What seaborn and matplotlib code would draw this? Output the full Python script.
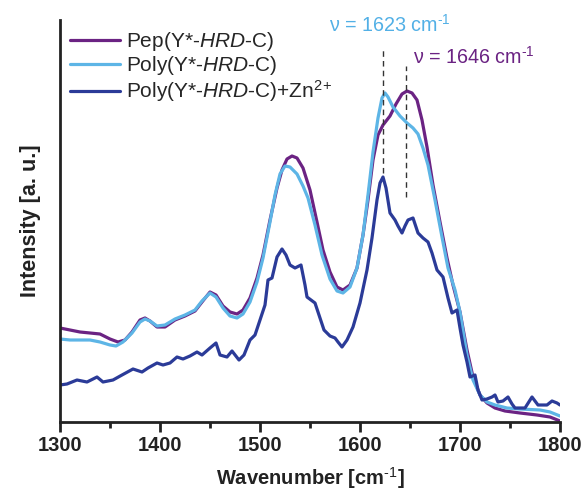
import matplotlib
matplotlib.use("Agg")
import matplotlib.pyplot as plt
import seaborn as sns
import numpy as np

# Pep(Y*-HRD-C)
pep_wn = [1300, 1310, 1320, 1330, 1340, 1350, 1358, 1365, 1372, 1380, 1385, 1390, 1397, 1405,
          1415, 1425, 1435, 1442, 1450, 1456, 1463, 1470, 1477, 1483, 1490, 1497, 1503, 1510,
          1517, 1522, 1527, 1532, 1537, 1543, 1550, 1557, 1563, 1570, 1577, 1583, 1590, 1597,
          1603, 1608, 1613, 1618, 1623, 1630, 1636, 1642, 1647, 1652, 1657, 1662, 1667, 1673,
          1680, 1687, 1693, 1700, 1707, 1713, 1720, 1727, 1735, 1745, 1760, 1777, 1790, 1800]
pep_int = [94, 92, 90, 89, 88, 83, 80, 82, 90, 102, 104, 101, 95, 95,
           102, 106, 111, 120, 130, 127, 116, 110, 108, 112, 124, 144, 167, 202,
           234, 252, 263, 266, 264, 254, 232, 200, 172, 150, 135, 132, 137, 154,
           187, 222, 262, 287, 297, 306, 318, 328, 331, 329, 322, 302, 275, 237,
           200, 164, 137, 110, 72, 45, 27, 19, 14, 11, 9, 7, 5, 1]

# Poly(Y*-HRD-C)
poly_wn = [1300, 1310, 1320, 1330, 1340, 1350, 1356, 1363, 1372, 1380, 1385, 1390, 1397, 1405,
           1415, 1425, 1435, 1442, 1450, 1456, 1463, 1470, 1477, 1483, 1490, 1497, 1503, 1510,
           1515, 1520, 1525, 1530, 1537, 1543, 1548, 1555, 1562, 1570, 1577, 1583, 1590, 1597,
           1603, 1608, 1613, 1618, 1622, 1625, 1628, 1633, 1640, 1647, 1653, 1658, 1663, 1668,
           1675, 1682, 1688, 1695, 1700, 1707, 1713, 1720, 1727, 1735, 1747, 1760, 1780, 1790, 1800]
poly_int = [83, 82, 82, 82, 80, 77, 76, 80, 89, 100, 103, 101, 96, 97,
            103, 107, 112, 121, 129, 125, 114, 106, 104, 108, 120, 140, 164, 200,
            227, 248, 256, 255, 248, 236, 224, 197, 167, 143, 131, 129, 135, 154,
            187, 227, 270, 304, 324, 329, 325, 315, 306, 299, 294, 288, 274, 257,
            222, 185, 154, 132, 110, 67, 42, 27, 20, 17, 14, 13, 12, 10, 6]

# Poly(Y*-HRD-C)+Zn2+
zn_wn = [1300, 1307, 1317, 1327, 1337, 1343, 1353, 1362, 1373, 1382, 1388, 1397, 1403, 1410,
         1417, 1423, 1430, 1437, 1442, 1450, 1456, 1460, 1467, 1472, 1479, 1484, 1490, 1495,
         1500, 1505, 1508, 1512, 1517, 1522, 1526, 1530, 1535, 1541, 1545, 1547, 1551, 1555,
         1560, 1564, 1570, 1575, 1578, 1582, 1587, 1593, 1600, 1607, 1612, 1617, 1620, 1623,
         1626, 1630, 1635, 1638, 1642, 1645, 1648, 1653, 1658, 1663, 1668, 1672, 1677, 1683,
         1688, 1692, 1697, 1700, 1703, 1707, 1710, 1715, 1718, 1722, 1727, 1732, 1735, 1738,
         1743, 1748, 1752, 1755, 1765, 1772, 1778, 1787, 1792, 1797, 1800]
zn_int = [37, 38, 42, 40, 45, 40, 42, 47, 53, 50, 54, 59, 57, 59,
          65, 63, 66, 70, 67, 74, 79, 67, 65, 71, 62, 67, 82, 87,
          102, 117, 142, 144, 165, 173, 167, 157, 154, 157, 137, 125, 122, 119,
          104, 92, 86, 84, 80, 75, 82, 95, 119, 152, 184, 222, 239, 245,
          234, 209, 202, 196, 189, 196, 202, 204, 189, 184, 180, 169, 152, 145,
          124, 109, 112, 94, 77, 60, 45, 47, 32, 22, 23, 25, 27, 20,
          21, 25, 18, 14, 14, 25, 17, 17, 21, 19, 17]

labels = ["Pep(Y*-$\\it{HRD}$-C)", "Poly(Y*-$\\it{HRD}$-C)", "Poly(Y*-$\\it{HRD}$-C)+Zn$^{2\\!+}$"]
colors = ["#6B2383", "#5DB5E6", "#2B3B98"]

peak_wn = [1623, 1646]
peak_top = [374, 356]
peak_bottom = [249, 225]
peak_text = ["ν = 1623 cm$^{\\text{-1}}$", "ν = 1646 cm$^{\\text{-1}}$"]
peak_text_colors = ["#52B0E6", "#6B2383"]

sns.set_theme(style="white")
plt.rcParams['font.family'] = ['Liberation Sans', 'DejaVu Sans']
plt.rcParams['mathtext.fontset'] = 'custom'
plt.rcParams['mathtext.rm'] = 'Liberation Sans'
plt.rcParams['mathtext.it'] = 'Liberation Sans:italic'
plt.rcParams['mathtext.bf'] = 'Liberation Sans:bold'

fig = plt.figure(figsize=(5.86, 4.94), dpi=100)
ax = fig.add_axes([60/586, 72/494, 500/586, 402/494])

for wn, it, lab, col in zip([pep_wn, poly_wn, zn_wn], [pep_int, poly_int, zn_int], labels, colors):
    sns.lineplot(x=wn, y=it, ax=ax, color=col, lw=2.3, label=lab)

for x, y0, y1 in zip(peak_wn, peak_bottom, peak_top):
    ax.plot([x, x], [y0, y1], color="#333333", lw=1.0, ls=(0, (4, 3)))

ax.text(1569, 397, peak_text[0], color=peak_text_colors[0], fontsize=14.2, ha='left', va='center')
ax.text(1653, 365, peak_text[1], color=peak_text_colors[1], fontsize=14.2, ha='left', va='center')

ax.set_xlim(1300, 1800)
ax.set_ylim(0, 402)
ax.set_xticks([1300, 1400, 1500, 1600, 1700, 1800])
ax.set_xticks([1350, 1450, 1550, 1650, 1750], minor=True)
ax.set_yticks([])
ax.tick_params(axis='x', which='major', direction='out', length=7, width=2, colors='#222222',
               labelsize=14.5, pad=3, bottom=True)
ax.tick_params(axis='x', which='minor', direction='out', length=4, width=2, colors='#222222', bottom=True)
for lab in ax.get_xticklabels():
    lab.set_fontweight('bold')
ax.spines['top'].set_visible(False)
ax.spines['right'].set_visible(False)
for s in ['left', 'bottom']:
    ax.spines[s].set_color('#222222')
    ax.spines[s].set_linewidth(2)

ax.set_xlabel("Wavenumber [cm$^{\\mathbf{\\text{-1}}}$]", fontsize=14.5, fontweight='bold', color='#222222', labelpad=7)
ax.set_ylabel("Intensity [a. u.]", fontsize=15.5, fontweight='bold', color='#222222', labelpad=14)

leg = ax.legend(loc='upper left', bbox_to_anchor=(0.0, 1.0), frameon=False, fontsize=15,
                handlelength=2.4, handletextpad=0.25, labelspacing=0.05, borderaxespad=0.2,
                borderpad=0.3)
for line in leg.get_lines():
    line.set_linewidth(2.3)

fig.savefig("out.png", dpi=100)
